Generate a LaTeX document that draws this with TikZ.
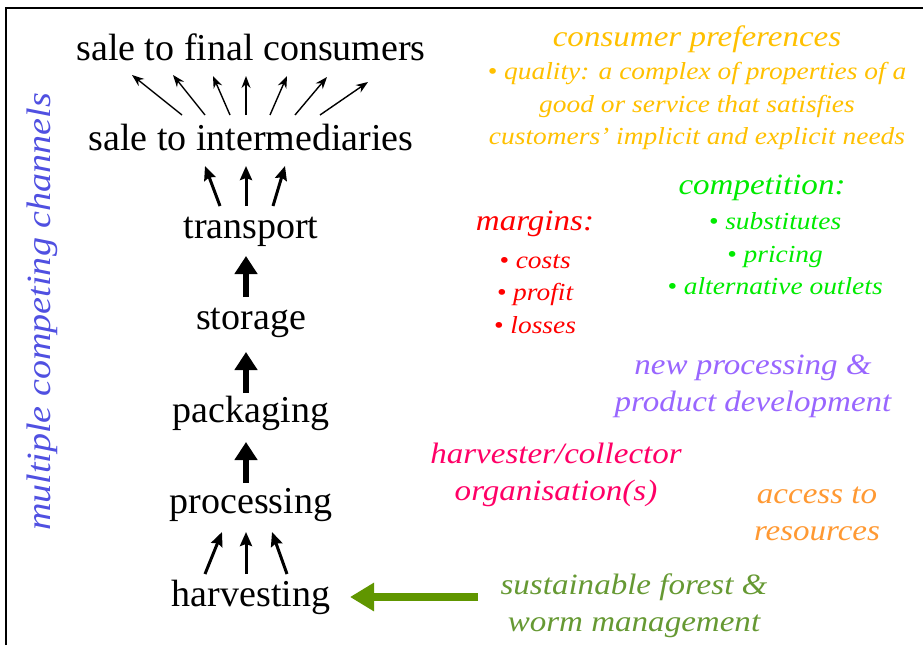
\documentclass[tikz,border=0pt]{standalone}
\usepackage{fontspec}
\setmainfont{Liberation Serif}
\newfontfamily\itf{Liberation Serif}[FakeStretch=1.12]
\usetikzlibrary{arrows.meta}
\definecolor{cpref}{RGB}{255,192,0}
\definecolor{compc}{RGB}{0,235,0}
\definecolor{margc}{RGB}{255,0,0}
\definecolor{newc}{RGB}{153,102,255}
\definecolor{orgc}{RGB}{255,0,102}
\definecolor{accc}{RGB}{255,153,51}
\definecolor{sustc}{RGB}{102,153,51}
\definecolor{multc}{RGB}{80,80,225}
\definecolor{garrow}{RGB}{96,150,0}
\tikzset{
  stage/.style={inner sep=0pt, font=\fontsize{38}{40}\selectfont},
  head/.style={inner sep=0pt, align=center, font=\itf\itshape\fontsize{29.5}{37}\selectfont},
  body/.style={inner sep=0pt, align=center, font=\itf\itshape\fontsize{24.5}{32.5}\selectfont},
  thin/.style={line width=1.4pt, -{Stealth[length=12pt,width=9pt]}},
  mid/.style={line width=3pt, -{Stealth[length=14pt,width=12pt,inset=2pt]}},
  fat/.style={line width=6pt, -{Triangle[length=18pt,width=22pt]}},
}
\begin{document}
\begin{tikzpicture}[x=1pt,y=-1pt]
\useasboundingbox (0,0) rectangle (923,645);
\coordinate (bl) at (6,645);
\coordinate (tl) at (6,8);
\coordinate (tr) at (923,8);
\draw[line width=1.6pt] (bl) -- (tl) -- (tr);

% stages
\node[stage] (final) at (251,47) {sale to final consumers};
\node[stage] (inter) at (251,138) {sale to intermediaries};
\node[stage] (trans) at (251,232) {transport};
\node[stage] (stor) at (251,323) {storage};
\node[stage] (pack) at (251,413) {packaging};
\node[stage] (proc) at (251,505) {processing};
\node[stage] (harv) at (251,597) {harvesting};

% fan arrows inter -> final
\foreach \i/\tx/\hx/\hy in {1/182/132/75, 2/205/173/75, 3/230/213/76, 4/246/246/76, 5/270/287/76, 6/295/327/77, 7/320/368/82}{
  \coordinate (ft\i) at (\tx,115);
  \coordinate (fh\i) at (\hx,\hy);
  \draw[thin] (ft\i) -- (fh\i);
}
% transport -> inter
\foreach \i/\tx/\hx in {1/220/205, 2/246/246, 3/273/285}{
  \coordinate (tt\i) at (\tx,206);
  \coordinate (th\i) at (\hx,166);
  \draw[mid] (tt\i) -- (th\i);
}
% single arrows
\coordinate (s1) at (246,297); \coordinate (s1h) at (246,256);
\coordinate (s2) at (246,393); \coordinate (s2h) at (246,352);
\coordinate (s3) at (246,483); \coordinate (s3h) at (246,442);
\draw[fat] (s1) -- (s1h);
\draw[fat] (s2) -- (s2h);
\draw[fat] (s3) -- (s3h);
% harvest -> processing
\foreach \i/\tx/\hx in {1/205/222, 2/246/246, 3/287/272}{
  \coordinate (ht\i) at (\tx,574);
  \coordinate (hh\i) at (\hx,532);
  \draw[mid] (ht\i) -- (hh\i);
}
% green arrow
\coordinate (gtail) at (478,597);
\coordinate (ghead) at (350,597);
\draw[garrow, line width=8pt, -{Triangle[length=24pt,width=27pt]}] (gtail) -- (ghead);

% vertical label
\node[inner sep=0pt, rotate=90, text=multc, font=\itf\itshape\fontsize{34}{36}\selectfont] (multi) at (42,312) {multiple competing channels};

% right side texts
\node[head, text=cpref] (cp) at (697,39) {consumer preferences};
\node[body, text=cpref] (cpq) at (697,106) {• quality: a complex of properties of a\\ good or service that satisfies\\ customers’ implicit and explicit needs};
\node[head, text=compc] (comp) at (762,188) {competition:};
\node[body, text=compc] (compb) at (775,254) {• substitutes\\ • pricing\\ • alternative outlets};
\node[head, text=margc] (marg) at (535,224) {margins:};
\node[body, text=margc] (margb) at (535,294) {• costs\\ • profit\\ • losses};
\node[head, text=newc] (newp) at (753,386) {new processing \&\\ product development};
\node[head, text=orgc] (org) at (556,475) {harvester/collector\\ organisation(s)};
\node[head, text=accc] (acc) at (817,514) {access to\\ resources};
\node[head, text=sustc] (sust) at (634,606) {sustainable forest \&\\ worm management};
\end{tikzpicture}
\end{document}
